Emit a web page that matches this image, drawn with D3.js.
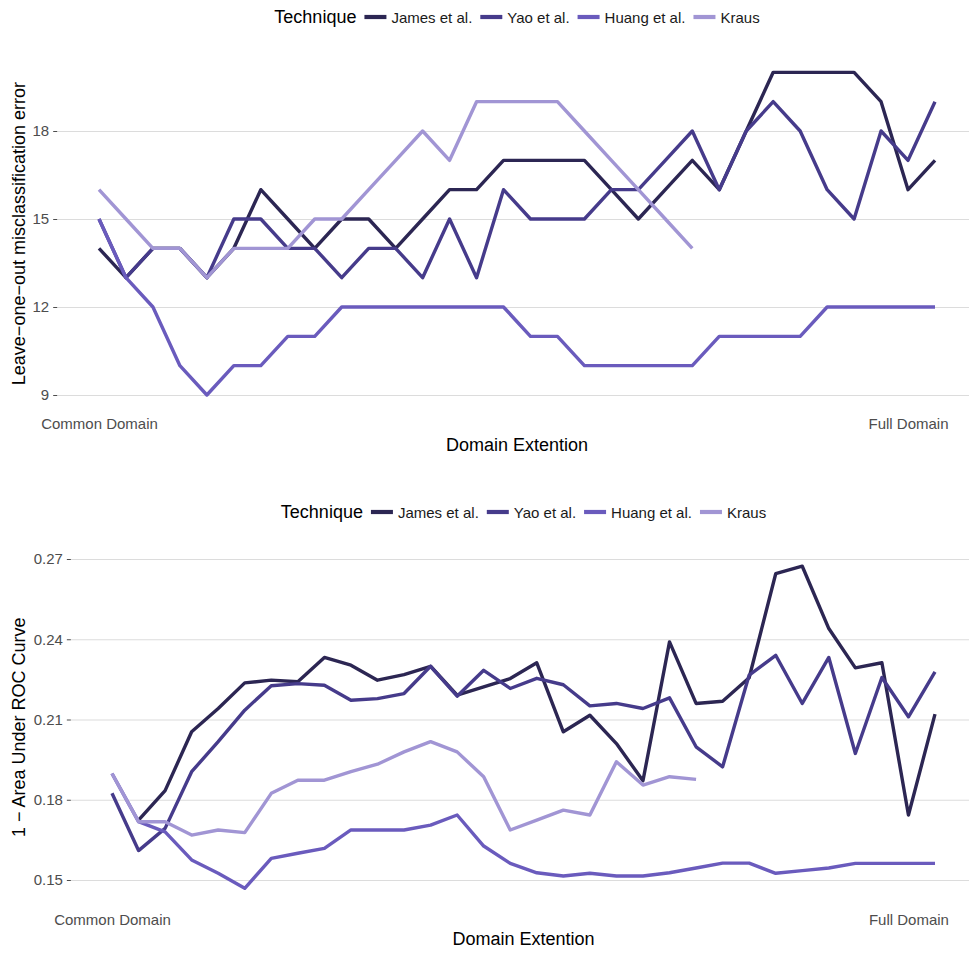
<!DOCTYPE html>
<html>
<head>
<meta charset="utf-8">
<script src="https://cdn.jsdelivr.net/npm/d3@7"></script>
<style>
  body { margin: 0; background: #fff; }
  svg { display: block; font-family: "Liberation Sans", Arial, Helvetica, sans-serif; }
</style>
</head>
<body>
<svg id="chart" width="969" height="954"></svg>
<script>
// Techniques compared and their line colours
const techniques = ["James et al.", "Yao et al.", "Huang et al.", "Kraus"];
const techniqueColors = ["#2c2653", "#463b8b", "#6a5bbd", "#a195d4"];

// x positions: steps of domain extension, labelled only at both ends
const domainTickSteps = [0, 30];
const domainTickLabels = ["Common Domain", "Full Domain"];

// Leave-one-out misclassification error per extension step
const errTicks = [9, 12, 15, 18];
const jamesErr = [14, 13, 14, 14, 13, 14, 16, 15, 14, 15, 15, 14, 15, 16, 16, 17, 17, 17, 17, 16, 15, 16, 17, 16, 18, 20, 20, 20, 20, 19, 16, 17];
const yaoErr   = [15, 13, 14, 14, 13, 15, 15, 14, 14, 13, 14, 14, 13, 15, 13, 16, 15, 15, 15, 16, 16, 17, 18, 16, 18, 19, 18, 16, 15, 18, 17, 19];
const huangErr = [15, 13, 12, 10, 9, 10, 10, 11, 11, 12, 12, 12, 12, 12, 12, 12, 11, 11, 10, 10, 10, 10, 10, 11, 11, 11, 11, 12, 12, 12, 12, 12];
const krausErr = [16, 15, 14, 14, 13, 14, 14, 14, 15, 15, 16, 17, 18, 17, 19, 19, 19, 19, 18, 17, 16, 15, 14];

// 1 - AUC per extension step (null = no value)
const aucTicks = [0.15, 0.18, 0.21, 0.24, 0.27];
const jamesAuc = [null, 0.1724, 0.1834, 0.2054, 0.2141, 0.2237, 0.2247, 0.2241, 0.2332, 0.2303, 0.2247, 0.2268, 0.2299, 0.2191, 0.2222, 0.2253, 0.2312, 0.2054, 0.2116, 0.2010, 0.1871, 0.2390, 0.2160, 0.2168, 0.2256, 0.2645, 0.2673, 0.2440, 0.2293, 0.2312, 0.1743, 0.2120];
const yaoAuc   = [0.1824, 0.1610, 0.1693, 0.1905, 0.2017, 0.2135, 0.2226, 0.2234, 0.2228, 0.2172, 0.2178, 0.2197, 0.2299, 0.2187, 0.2284, 0.2216, 0.2254, 0.2230, 0.2151, 0.2160, 0.2141, 0.2181, 0.1998, 0.1923, 0.2266, 0.2340, 0.2160, 0.2332, 0.1973, 0.2257, 0.2110, 0.2278];
const huangAuc = [0.1898, 0.1718, 0.1680, 0.1575, 0.1525, 0.1469, 0.1581, 0.1600, 0.1618, 0.1687, 0.1687, 0.1687, 0.1705, 0.1743, 0.1627, 0.1562, 0.1527, 0.1515, 0.1525, 0.1515, 0.1515, 0.1527, 0.1545, 0.1563, 0.1563, 0.1525, 0.1535, 0.1545, 0.1562, 0.1562, 0.1562, 0.1562];
const krausAuc = [0.1898, 0.1718, 0.1718, 0.1668, 0.1687, 0.1677, 0.1824, 0.1873, 0.1873, 0.1905, 0.1933, 0.1979, 0.2017, 0.1979, 0.1886, 0.1687, 0.1724, 0.1761, 0.1743, 0.1942, 0.1855, 0.1886, 0.1876];

const svg = d3.select("#chart");

function drawPanel(cfg) {
  const g = svg.append("g");
  const x = d3.scaleLinear().domain([-1.55, 32.55]).range([cfg.left, cfg.right]);
  const y = d3.scaleLinear().domain(cfg.yAnchor).range(cfg.yAnchorPx);
  const cx = (cfg.left + cfg.right) / 2;

  // horizontal grid
  g.append("g")
    .attr("transform", `translate(${cfg.left},0)`)
    .call(d3.axisLeft(y).tickValues(cfg.yTicks).tickSize(-(cfg.right - cfg.left)).tickFormat(""))
    .call(a => a.select(".domain").remove())
    .call(a => a.selectAll("line").attr("stroke", "#dcdcdc").attr("stroke-width", 1.1));

  // y axis ticks and labels
  g.append("g")
    .attr("transform", `translate(${cfg.left},0)`)
    .call(d3.axisLeft(y).tickValues(cfg.yTicks).tickSize(4).tickPadding(4).tickFormat(cfg.yFormat))
    .call(a => a.select(".domain").remove())
    .call(a => a.selectAll("line").attr("stroke", "#4d4d4d").attr("stroke-width", 1))
    .call(a => a.selectAll("text").attr("fill", "#4d4d4d").attr("font-size", 15)
      .attr("font-family", "Liberation Sans, Arial, sans-serif"));

  // x axis labels at the two ends
  g.append("g")
    .attr("transform", `translate(0,${cfg.xLabelTop})`)
    .call(d3.axisBottom(x).tickValues(domainTickSteps).tickSize(0).tickPadding(0)
      .tickFormat((d, i) => domainTickLabels[i]))
    .call(a => a.select(".domain").remove())
    .call(a => a.selectAll("text").attr("fill", "#4d4d4d").attr("font-size", 15)
      .attr("font-family", "Liberation Sans, Arial, sans-serif"));

  // series lines
  const line = d3.line()
    .defined(v => v != null)
    .x((v, i) => x(i))
    .y(v => y(v));
  cfg.series.forEach((s, k) => {
    g.append("path")
      .datum(s)
      .attr("fill", "none")
      .attr("stroke", techniqueColors[k])
      .attr("stroke-width", 3.4)
      .attr("stroke-linejoin", "round")
      .attr("stroke-linecap", "butt")
      .attr("d", line);
  });

  // axis titles
  g.append("text")
    .attr("x", cx).attr("y", cfg.xTitleBase)
    .attr("text-anchor", "middle").attr("font-size", 18).attr("fill", "#000")
    .text("Domain Extention");
  const midY = (cfg.panelTop + cfg.panelBottom) / 2;
  g.append("text")
    .attr("transform", `translate(${cfg.yTitleBase},${midY}) rotate(-90)`)
    .attr("text-anchor", "middle").attr("font-size", 18).attr("fill", "#000")
    .text(cfg.yTitle);

  // legend across the top, centred over the panel
  const lg = g.append("g");
  const title = lg.append("text").attr("y", cfg.legendBase).attr("font-size", 18).attr("fill", "#000").text("Technique");
  let pos = title.node().getComputedTextLength() + 8;
  techniques.forEach((name, k) => {
    lg.append("line")
      .attr("x1", pos).attr("x2", pos + 22)
      .attr("y1", cfg.legendKeyY).attr("y2", cfg.legendKeyY)
      .attr("stroke", techniqueColors[k]).attr("stroke-width", 4.2);
    pos += 27;
    const t = lg.append("text").attr("x", pos).attr("y", cfg.legendBase)
      .attr("font-size", 15).attr("fill", "#1a1a1a").text(name);
    pos += t.node().getComputedTextLength();
    if (k < techniques.length - 1) pos += 8;
  });
  lg.attr("transform", `translate(${cx - pos / 2},0)`);
}

drawPanel({
  series: [jamesErr, yaoErr, huangErr, krausErr],
  left: 57.2, right: 976.8,
  panelTop: 56.1, panelBottom: 411.1,
  yAnchor: [9, 18], yAnchorPx: [395, 131],
  yTicks: errTicks, yFormat: d3.format("d"),
  yTitle: "Leave\u2212one\u2212out misclassification error",
  xLabelTop: 418.4, xTitleBase: 451, yTitleBase: 25,
  legendBase: 22.5, legendKeyY: 17
});

drawPanel({
  series: [jamesAuc, yaoAuc, huangAuc, krausAuc],
  left: 70.85, right: 976.15,
  panelTop: 550.1, panelBottom: 904.4,
  yAnchor: [0.15, 0.27], yAnchorPx: [880, 559],
  yTicks: aucTicks, yFormat: d3.format(".2f"),
  yTitle: "1 \u2212 Area Under ROC Curve",
  xLabelTop: 914.4, xTitleBase: 945, yTitleBase: 25,
  legendBase: 517.5, legendKeyY: 512
});
</script>
</body>
</html>
